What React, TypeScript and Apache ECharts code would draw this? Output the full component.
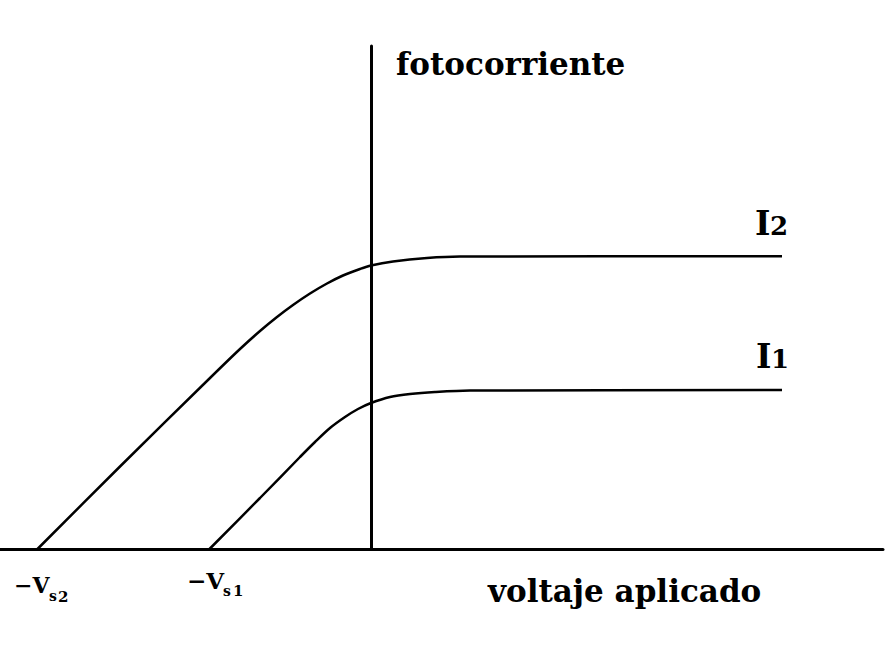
import React, { useEffect, useRef } from "react";
import * as echarts from "echarts";

// Applied voltage (arbitrary units, 0 = vertical axis) and photocurrent (arbitrary units)
const voltageI2 = [-334.5, -251.5, -161.5, -131.5, -111.5, -94.5, -78.5, -61.5, -44.5, -28.5, -11.5, -0.5, 21.5, 55.5, 88.5, 410.5];
const currentI2 = [0, 83, 171.5, 200.5, 218.5, 232.5, 244.5, 256, 266, 274, 280.5, 284, 288, 291.5, 293, 293.2];
const voltageI1 = [-162.5, -111.5, -71.5, -56.5, -41.5, -26.5, -13.5, -0.5, 18.5, 38.5, 63.5, 98.5, 410.5];
const currentI1 = [0, 51.5, 92.5, 107.5, 121.5, 132.5, 140.5, 146.5, 152.5, 155.5, 157.5, 159, 159.5];

const xRange = [-371.5, 511.5];
const yRange = [0, 503.5];

const yTitle = "fotocorriente";
const xTitle = "voltaje aplicado";
const seriesNames = ["I1", "I2"];
const stopLabels = [
  { main: "−V", sub: "s", idx: "2" },
  { main: "−V", sub: "s", idx: "1" },
];

const FONT = "'DejaVu Serif', 'Liberation Serif', serif";

function txt(text: string, x: number, y: number, size: number) {
  return {
    type: "text",
    x,
    y,
    style: {
      text,
      fill: "#000",
      font: `bold ${size}px ${FONT}`,
      textAlign: "left",
      textVerticalAlign: "middle",
    },
  };
}

export default function App() {
  const ref = useRef<HTMLDivElement>(null);
  useEffect(() => {
    const chart = echarts.init(ref.current!, undefined, { renderer: "svg" });
    const zip = (a: number[], b: number[]) => a.map((v, i) => [v, b[i]]);
    const c = 0.346;
    chart.setOption({
      animation: false,
      backgroundColor: "#fff",
      grid: { left: 0, right: 11, top: 46, bottom: 118.5, containLabel: false },
      xAxis: {
        type: "value",
        min: xRange[0],
        max: xRange[1],
        axisLine: { show: true, onZero: true, lineStyle: { color: "#000", width: 3 } },
        axisTick: { show: false },
        axisLabel: { show: false },
        splitLine: { show: false },
      },
      yAxis: {
        type: "value",
        min: yRange[0],
        max: yRange[1],
        axisLine: { show: true, onZero: true, lineStyle: { color: "#000", width: 3 } },
        axisTick: { show: false },
        axisLabel: { show: false },
        splitLine: { show: false },
      },
      series: [
        {
          name: seriesNames[1],
          type: "line",
          data: zip(voltageI2, currentI2),
          showSymbol: false,
          smooth: 0.3,
          lineStyle: { color: "#000", width: 2.5 },
        },
        {
          name: seriesNames[0],
          type: "line",
          data: zip(voltageI1, currentI1),
          showSymbol: false,
          smooth: 0.3,
          lineStyle: { color: "#000", width: 2.5 },
        },
      ],
      graphic: [
        txt(yTitle, 396, 75 - c * 31, 31),
        txt(xTitle, 488, 602 - c * 31, 31),
        txt("I", 755, 235 - c * 33, 33),
        txt(seriesNames[1].slice(1), 770, 235 - c * 26, 26),
        txt("I", 756, 368 - c * 33, 33),
        txt(seriesNames[0].slice(1), 771, 368 - c * 26, 26),
        txt(stopLabels[0].main, 14, 593 - c * 22, 22),
        txt(stopLabels[0].sub, 49, 601 - c * 14, 14),
        txt(stopLabels[0].idx, 58, 602 - c * 15, 15),
        txt(stopLabels[1].main, 187, 588 - c * 23, 23),
        txt(stopLabels[1].sub, 223, 596 - c * 14, 14),
        txt(stopLabels[1].idx, 233, 596 - c * 15, 15),
      ],
    });
    return () => chart.dispose();
  }, []);
  return (
    <div
      ref={ref}
      style={{ position: "absolute", left: 0, top: 0, width: 894, height: 668 }}
    />
  );
}
